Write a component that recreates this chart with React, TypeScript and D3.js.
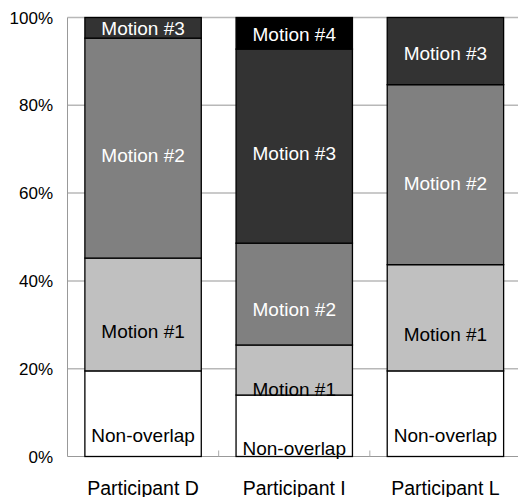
import React from "react";
import * as d3 from "d3";

const categories = ["Participant D", "Participant I", "Participant L"];
const segmentNames = ["Non-overlap", "Motion #1", "Motion #2", "Motion #3", "Motion #4"];
const seriesD = [19.5, 25.7, 50.1, 4.7, 0];
const seriesI = [14.0, 11.4, 23.2, 44.2, 7.2];
const seriesL = [19.5, 24.2, 41.0, 15.3, 0];
const yTicks = [0, 20, 40, 60, 80, 100];
const segmentFills = ["#ffffff", "#c0c0c0", "#808080", "#333333", "#000000"];
const labelColors = ["#000000", "#000000", "#ffffff", "#ffffff", "#ffffff"];

const W = 518;
const H = 497;
const left = 67.5;
const top = 17.5;
const bottom = 456.5;
const right = 521;

export default function App() {
  const data = [seriesD, seriesI, seriesL];
  const x = d3.scaleBand<string>().domain(categories).range([left, right]).paddingInner(0.23).paddingOuter(0.115);
  const y = d3.scaleLinear().domain([0, 100]).range([bottom, top]);
  const font = "'Liberation Sans', Arial, sans-serif";
  const step = x.step();
  const bandStart = x(categories[0])! - x.paddingOuter() * step;

  return (
    <svg width={W} height={H} style={{ position: "absolute", left: 0, top: 0 }} fontFamily={font}>
      <rect x={0} y={0} width={W} height={H} fill="#fff" />
      {yTicks.map((t) => (
        <line key={t} x1={left} x2={W} y1={y(t)} y2={y(t)} stroke={t === 0 ? "#999" : "#b8b8b8"} strokeWidth={t === 0 ? 1 : 1.5} />
      ))}
      <line x1={left} x2={left} y1={top} y2={bottom} stroke="#999" strokeWidth={1} />
      {[1, 2].map((i) => (
        <line key={i} x1={bandStart + i * step} x2={bandStart + i * step} y1={bottom - 6} y2={bottom} stroke="#aaa" strokeWidth={1} />
      ))}
      {yTicks.map((t) => (
        <text key={t} x={53} y={y(t)} dy="0.36em" textAnchor="end" fontSize={17} fill="#000">
          {t}%
        </text>
      ))}
      {data.map((vals, ci) => {
        const cat = categories[ci];
        const bx = x(cat)!;
        const bw = x.bandwidth();
        let acc = 0;
        return (
          <g key={cat}>
            {vals.map((v, si) => {
              if (v <= 0) return null;
              const y0 = y(acc);
              acc += v;
              const y1 = y(acc);
              return (
                <rect key={si} x={bx} y={y1} width={bw} height={y0 - y1} fill={segmentFills[si]} stroke="#000" strokeWidth={1.3} />
              );
            })}
          </g>
        );
      })}
      {data.map((vals, ci) => {
        const cat = categories[ci];
        const cx = x(cat)! + x.bandwidth() / 2;
        let acc = 0;
        return (
          <g key={cat + "l"}>
            {vals.map((v, si) => {
              if (v <= 0) return null;
              const y0 = y(acc);
              acc += v;
              const y1 = y(acc);
              const mid = (y0 + y1) / 2;
              const ly = mid + (mid - top) * 0.055;
              return (
                <text key={si} x={cx} y={ly} dy="0.36em" textAnchor="middle" fontSize={19} fill={labelColors[si]}>
                  {segmentNames[si]}
                </text>
              );
            })}
          </g>
        );
      })}
      {categories.map((c) => (
        <text key={c} x={x(c)! + x.bandwidth() / 2} y={494.5} textAnchor="middle" fontSize={19.5} fill="#000">
          {c}
        </text>
      ))}
    </svg>
  );
}
